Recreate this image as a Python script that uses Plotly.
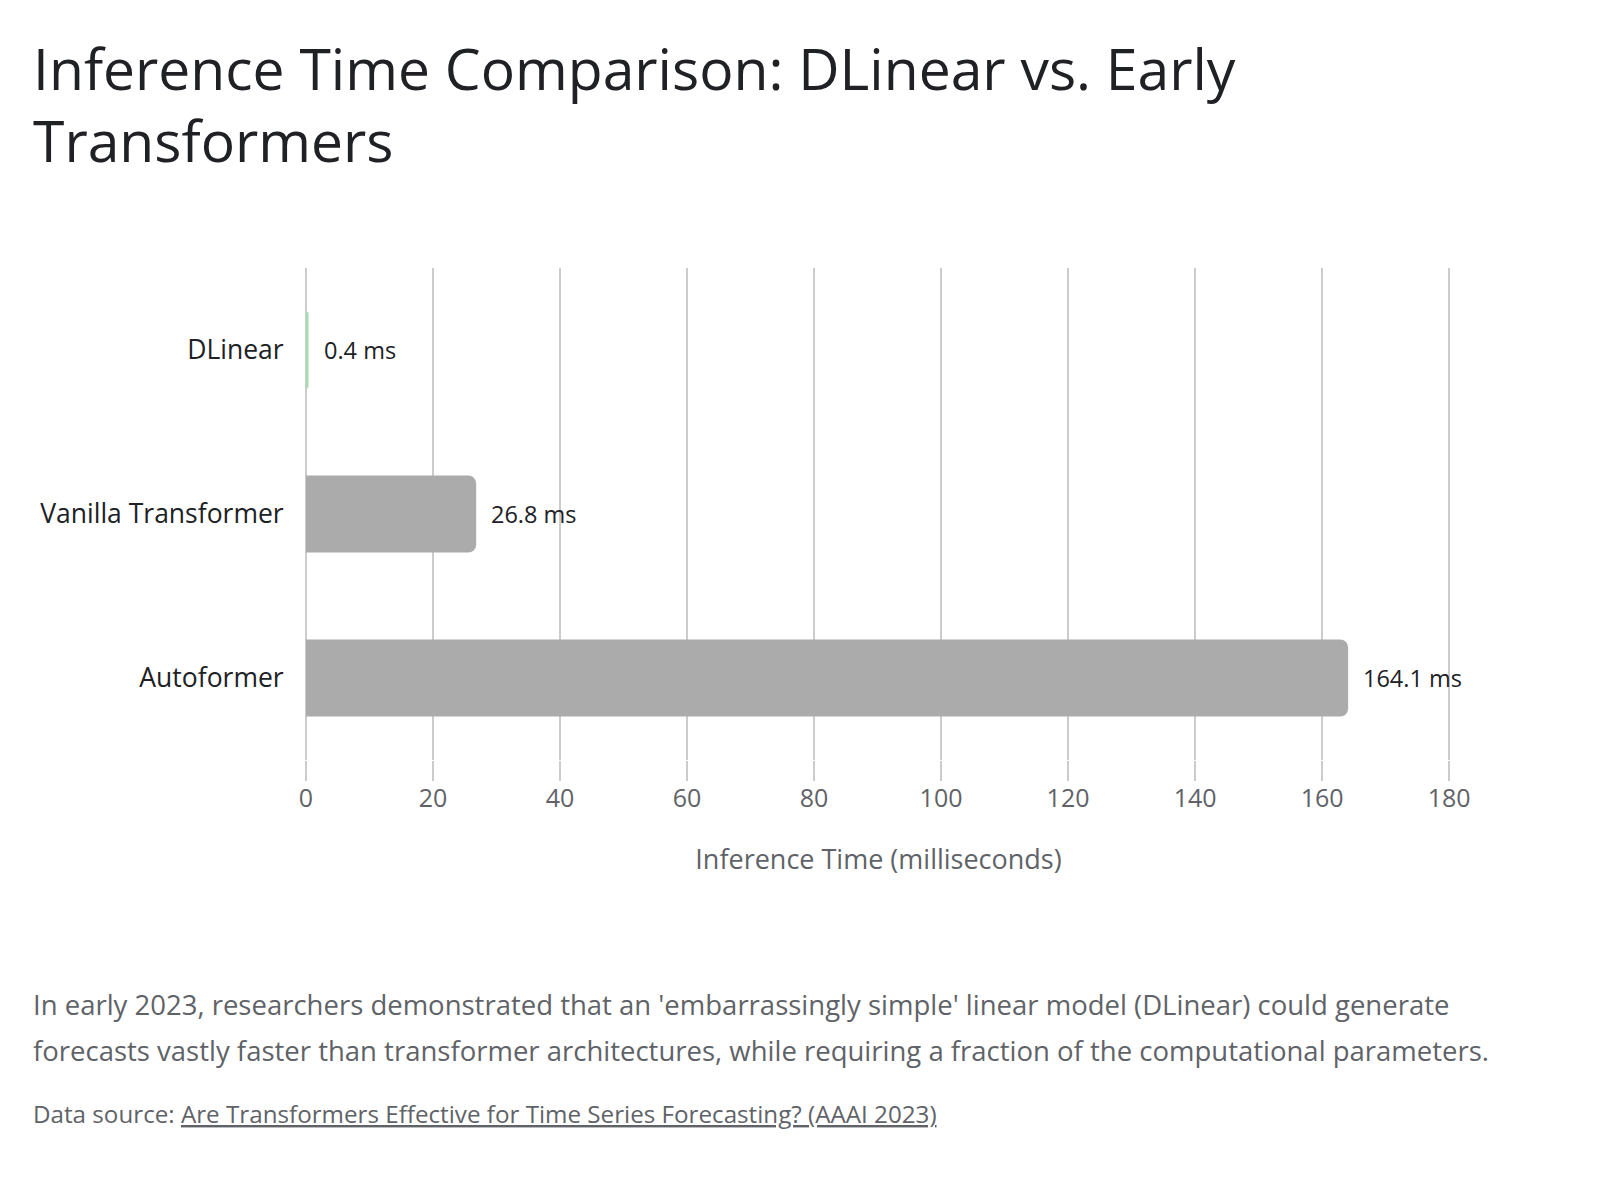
import plotly.graph_objects as go

models = ["DLinear", "Vanilla Transformer", "Autoformer"]
times_ms = [0.4, 26.8, 164.1]
bar_colors = ["#a8dbb4", "#ababab", "#ababab"]
x_ticks = [0, 20, 40, 60, 80, 100, 120, 140, 160, 180]

title_lines = ["Inference Time Comparison: DLinear vs. Early", "Transformers"]
x_title = "Inference Time (milliseconds)"
desc_lines = [
    "In early 2023, researchers demonstrated that an 'embarrassingly simple' linear model (DLinear) could generate",
    "forecasts vastly faster than transformer architectures, while requiring a fraction of the computational parameters.",
]
source_label = "Data source: "
source_link = "Are Transformers Effective for Time Series Forecasting? (AAAI 2023)"

FONT = "'Open Sans', Roboto, sans-serif"
W, H = 1600, 1200
L, R, T, B = 306, 149, 268, 440
X_MAX = 180.3

fig = go.Figure()
fig.add_trace(go.Bar(
    x=times_ms,
    y=models,
    orientation="h",
    marker=dict(color=bar_colors, line=dict(width=0), cornerradius=8),
    width=0.47,
    hoverinfo="skip",
))

for m, v in zip(models, times_ms):
    fig.add_annotation(
        x=v, y=m, xref="x", yref="y",
        text=f"{v:.1f} ms", showarrow=False,
        xanchor="left", yanchor="middle", xshift=13,
        font=dict(family=FONT, size=23.5, color="#202124"),
    )

fig.update_layout(
    width=W, height=H,
    margin=dict(l=L, r=R, t=T, b=B, pad=0),
    paper_bgcolor="white", plot_bgcolor="white",
    showlegend=False,
    font=dict(family=FONT),
    xaxis=dict(
        range=[0, X_MAX],
        tickvals=x_ticks,
        showgrid=True, gridcolor="#cccccc", gridwidth=2,
        zeroline=True, zerolinecolor="#cccccc", zerolinewidth=2,
        ticks="outside", ticklen=20, tickcolor="#cccccc", tickwidth=2,
        ticklabelstandoff=-4,
        showline=False,
        tickfont=dict(family=FONT, size=25, color="#5f6368"),
        title=dict(text=x_title, standoff=37,
                   font=dict(family=FONT, size=27, color="#5f6368")),
        fixedrange=True,
    ),
    yaxis=dict(
        categoryorder="array", categoryarray=models,
        range=[2.5, -0.5],
        showgrid=False, zeroline=False, showline=False,
        ticks="outside", ticklen=16, tickcolor="rgba(0,0,0,0)",
        tickfont=dict(family=FONT, size=26.5, color="#202124"),
        fixedrange=True,
    ),
)

plot_h = H - T - B
plot_w = W - L - R

def px_to_paper_x(px):
    return (px - L) / plot_w

def px_to_paper_y(py):
    return (H - B - py) / plot_h

# title lines
for i, line in enumerate(title_lines):
    fig.add_annotation(
        x=px_to_paper_x(31), y=px_to_paper_y(68 + 72 * i), xref="paper", yref="paper",
        text=line, showarrow=False, xanchor="left", yanchor="middle", align="left",
        font=dict(family=FONT, size=57, color="#202124"),
    )

# description lines
for i, line in enumerate(desc_lines):
    fig.add_annotation(
        x=px_to_paper_x(31), y=px_to_paper_y(1004 + 46 * i), xref="paper", yref="paper",
        text=line, showarrow=False, xanchor="left", yanchor="middle", align="left",
        font=dict(family=FONT, size=27.5, color="#5f6368"),
    )

fig.add_annotation(
    x=px_to_paper_x(31), y=px_to_paper_y(1113), xref="paper", yref="paper",
    text=source_label + f"<span style='text-decoration:underline'>{source_link}</span>",
    showarrow=False, xanchor="left", yanchor="middle", align="left",
    font=dict(family=FONT, size=24.2, color="#5f6368"),
)

fig.write_html("out.html", config={"displayModeBar": False})
